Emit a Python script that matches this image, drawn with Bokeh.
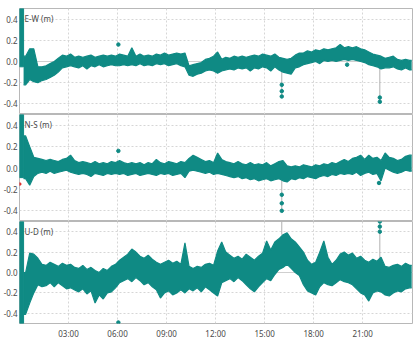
import numpy as np
from bokeh.plotting import figure
from bokeh.layouts import column
from bokeh.models import FixedTicker, Span, Label, Range1d, PrintfTickFormatter
from bokeh.embed import file_html
from bokeh.resources import INLINE

# ---- data (metres), 15-minute bins over 24 h: low / high envelope of the noisy track ----
BIN_H = 0.25
hour_ticks = [3, 6, 9, 12, 15, 18, 21]
hour_labels = ["03:00", "06:00", "09:00", "12:00", "15:00", "18:00", "21:00"]
value_ticks = [-0.4, -0.2, 0.0, 0.2, 0.4]

ew_lo = [-0.05, -0.22, -0.17, -0.19, -0.20, -0.18, -0.17, -0.15, -0.13, -0.10,
         -0.06, -0.05, -0.04, -0.05, -0.06, -0.04, -0.07, -0.04, -0.05, -0.03,
         -0.05, -0.04, -0.03, -0.04, -0.04, -0.03, -0.04, -0.03, -0.04, -0.02,
         -0.04, -0.03, -0.04, -0.02, -0.03, -0.02, -0.04, -0.03, -0.02, -0.04,
         -0.05, -0.13, -0.14, -0.12, -0.11, -0.09, -0.08, -0.09, -0.11, -0.09,
         -0.08, -0.07, -0.08, -0.06, -0.07, -0.06, -0.09, -0.06, -0.07, -0.05,
         -0.06, -0.09, -0.05, -0.08, -0.10, -0.11, -0.12, -0.06, -0.05, -0.03,
         -0.02, -0.01, 0.00, -0.02, 0.01, 0.00, 0.01, 0.00, 0.01, 0.02,
         0.01, 0.02, 0.01, 0.00, -0.01, -0.03, -0.04, -0.05, -0.07, -0.06,
         -0.06, -0.05, -0.07, -0.08, -0.06, -0.08]
ew_hi = [0.55, 0.05, 0.12, 0.12, -0.05, -0.05, -0.04, -0.02, 0.00, 0.03,
         0.06, 0.05, 0.07, 0.04, 0.05, 0.04, 0.05, 0.06, 0.04, 0.05,
         0.06, 0.05, 0.06, 0.05, 0.07, 0.06, 0.05, 0.13, 0.05, 0.07,
         0.05, 0.06, 0.05, 0.07, 0.06, 0.08, 0.06, 0.07, 0.08, 0.07,
         0.08, -0.04, -0.03, -0.02, -0.01, 0.02, 0.03, 0.05, 0.09, 0.02,
         0.04, 0.03, 0.05, 0.04, 0.05, 0.04, 0.05, 0.06, 0.05, 0.07,
         0.06, 0.05, 0.07, 0.04, 0.03, 0.02, 0.03, 0.06, 0.08, 0.08,
         0.10, 0.09, 0.11, 0.10, 0.12, 0.11, 0.12, 0.13, 0.16, 0.13,
         0.14, 0.13, 0.14, 0.12, 0.11, 0.09, 0.07, 0.06, 0.05, 0.03,
         0.04, 0.05, 0.02, 0.01, 0.02, 0.01]

ns_lo = [-0.09, -0.10, -0.16, -0.08, -0.05, -0.04, -0.05, -0.03, -0.05, -0.04,
         -0.03, -0.02, -0.04, -0.05, -0.06, -0.05, -0.06, -0.08, -0.05, -0.06,
         -0.07, -0.05, -0.06, -0.05, -0.06, -0.05, -0.07, -0.06, -0.05, -0.07,
         -0.06, -0.05, -0.06, -0.07, -0.05, -0.06, -0.05, -0.07, -0.06, -0.05,
         -0.09, -0.03, -0.02, -0.03, -0.04, -0.05, -0.04, -0.06, -0.05, -0.06,
         -0.07, -0.08, -0.09, -0.08, -0.10, -0.09, -0.11, -0.10, -0.12, -0.11,
         -0.10, -0.12, -0.11, -0.10, -0.12, -0.13, -0.10, -0.11, -0.09, -0.10,
         -0.08, -0.09, -0.10, -0.08, -0.07, -0.08, -0.06, -0.07, -0.05, -0.06,
         -0.05, -0.06, -0.04, -0.07, -0.05, -0.04, -0.06, -0.05, -0.12, 0.00,
         -0.02, -0.04, -0.05, -0.04, -0.02, -0.03]
ns_hi = [0.55, 0.30, 0.20, 0.10, 0.09, 0.08, 0.07, 0.08, 0.07, 0.06,
         0.08, 0.09, 0.12, 0.07, 0.05, 0.06, 0.05, 0.04, 0.06, 0.04,
         0.05, 0.04, 0.06, 0.05, 0.07, 0.05, 0.04, 0.05, 0.04, 0.05,
         0.03, 0.05, 0.04, 0.08, 0.05, 0.04, 0.06, 0.05, 0.04, 0.06,
         0.05, 0.09, 0.12, 0.10, 0.08, 0.06, 0.07, 0.05, 0.14, 0.08,
         0.06, 0.05, 0.04, 0.06, 0.04, 0.03, 0.05, 0.03, 0.04, 0.03,
         0.05, 0.02, 0.04, 0.06, 0.07, 0.02, 0.01, 0.02, 0.01, 0.03,
         0.02, 0.01, 0.03, 0.02, 0.04, 0.03, 0.05, 0.04, 0.06, 0.08,
         0.06, 0.09, 0.10, 0.12, 0.08, 0.12, 0.09, 0.10, 0.07, 0.14,
         0.10, 0.09, 0.07, 0.08, 0.11, 0.12]

ud_lo = [-0.55, -0.41, -0.30, -0.20, -0.12, -0.14, -0.13, -0.10, -0.14, -0.10,
         -0.13, -0.16, -0.15, -0.17, -0.19, -0.16, -0.21, -0.18, -0.30, -0.22,
         -0.26, -0.20, -0.19, -0.15, -0.10, -0.08, -0.06, -0.09, -0.05, -0.08,
         -0.12, -0.10, -0.14, -0.17, -0.25, -0.20, -0.18, -0.22, -0.20, -0.17,
         -0.20, -0.16, -0.18, -0.15, -0.19, -0.14, -0.17, -0.20, -0.23, -0.10,
         -0.08, -0.06, -0.09, -0.05, -0.08, -0.12, -0.16, -0.19, -0.14, -0.10,
         -0.06, -0.08, -0.02, 0.03, 0.05, 0.08, 0.04, 0.00, -0.03, -0.12,
         -0.18, -0.20, -0.22, -0.14, -0.10, -0.12, -0.13, -0.10, -0.07, -0.09,
         -0.10, -0.12, -0.16, -0.20, -0.22, -0.28, -0.20, -0.18, -0.19, -0.22,
         -0.23, -0.20, -0.18, -0.19, -0.16, -0.15]
ud_hi = [0.55, 0.00, 0.19, 0.18, 0.14, 0.08, 0.07, 0.10, 0.08, 0.06,
         0.09, 0.07, 0.08, 0.05, 0.04, 0.07, 0.03, 0.05, 0.02, 0.00,
         0.04, 0.02, 0.06, 0.08, 0.12, 0.15, 0.18, 0.23, 0.20, 0.16,
         0.14, 0.17, 0.13, 0.10, 0.08, 0.10, 0.12, 0.09, 0.11, 0.08,
         0.29, 0.06, 0.04, 0.06, 0.05, 0.08, 0.09, 0.07, 0.21, 0.30,
         0.20, 0.17, 0.14, 0.16, 0.13, 0.18, 0.15, 0.12, 0.16, 0.19,
         0.31, 0.22, 0.30, 0.33, 0.37, 0.39, 0.33, 0.30, 0.25, 0.20,
         0.12, 0.08, 0.10, 0.20, 0.31, 0.15, 0.08, 0.12, 0.18, 0.20,
         0.17, 0.19, 0.14, 0.16, 0.12, 0.10, 0.13, 0.11, 0.15, 0.06,
         0.05, 0.07, 0.08, 0.06, 0.09, 0.07]

# isolated outlier epochs (hours, metres)
ew_out_t = [6.05, 16.05, 16.05, 16.05, 20.05, 22.05, 22.05]
ew_out_v = [0.16, -0.22, -0.28, -0.33, -0.03, -0.34, -0.38]
ns_out_t = [6.05, 16.05, 16.05, 16.05, 22.0]
ns_out_v = [0.16, -0.25, -0.33, -0.40, -0.14]
ud_out_t = [6.05, 22.05, 22.05, 22.05]
ud_out_v = [-0.49, 0.40, 0.45, 0.50]

# jumps joined by the thin connecting line (hours, from, to)
ew_jump_t = [16.05, 22.05]
ew_jump_a = [-0.06, -0.05]
ew_jump_b = [-0.33, -0.38]
ns_jump_t = [16.05]
ns_jump_a = [-0.10]
ns_jump_b = [-0.41]
ud_jump_t = [16.05, 22.05]
ud_jump_a = [0.55, 0.00]
ud_jump_b = [0.37, 0.50]

# a flagged (red) epoch at start of N-S
ns_flag_t = [0.02]
ns_flag_v = [-0.15]

TEAL = "#0f8a84"
GRID = "#d6d6d6"
TEXT = "#4a4a4a"
FONT = "Noto Sans"

x_range = Range1d(0, 24.05)
xt = FixedTicker(ticks=hour_ticks)
yt = FixedTicker(ticks=value_ticks)


def panel(lo, hi, name, ot, ov, jt, ja, jb, height, top, bottom, show_x,
          ft=None, fv=None):
    p = figure(width=415, height=height, x_range=x_range, y_range=Range1d(-0.5, 0.5),
               output_backend="svg", toolbar_location=None,
               min_border_left=18, min_border_right=3,
               min_border_top=top, min_border_bottom=bottom)
    p.background_fill_color = "white"
    p.border_fill_color = "white"
    p.outline_line_color = "#b8b8b8"
    p.outline_line_width = 1

    for g, tk in ((p.xgrid, xt), (p.ygrid, yt)):
        g.ticker = tk
        g.grid_line_color = GRID
        g.grid_line_dash = "2 2"
        g.grid_line_width = 1
    p.add_layout(Span(location=0, dimension="width", line_color="#cfcfcf",
                      line_width=1, level="underlay"))

    for ax in (p.yaxis, p.xaxis):
        ax.axis_line_color = None
        ax.major_tick_line_color = None
        ax.minor_tick_line_color = None
        ax.major_tick_out = 0
        ax.major_tick_in = 0
        ax.minor_tick_out = 0
        ax.minor_tick_in = 0
        ax.major_label_text_font = FONT
        ax.major_label_text_font_size = "8px"
        ax.major_label_text_color = TEXT

    p.yaxis.ticker = yt
    p.yaxis.formatter = PrintfTickFormatter(format="%.1f")
    p.yaxis.major_label_standoff = 2

    p.xaxis.ticker = xt
    if show_x:
        p.xaxis.major_label_overrides = {t: s for t, s in zip(hour_ticks, hour_labels)}
        p.xaxis.major_label_standoff = 4
    else:
        p.xaxis.visible = False

    n = len(lo)
    t = np.arange(n) * BIN_H + BIN_H / 2
    # band from the start of the second bin to the end of the last one
    tx = np.concatenate([[BIN_H], t[1:], [n * BIN_H]])
    lo_x = np.concatenate([[lo[1]], lo[1:], [lo[-1]]])
    hi_x = np.concatenate([[hi[1]], hi[1:], [hi[-1]]])

    p.segment(x0=jt, x1=jt, y0=ja, y1=jb, line_color="#b0b0b0", line_width=1)
    p.varea(x=tx, y1=lo_x, y2=hi_x, fill_color=TEAL)
    p.line(x=tx, y=lo_x, line_color=TEAL, line_width=1.2)
    p.line(x=tx, y=hi_x, line_color=TEAL, line_width=1.2)
    # first bin: the convergence spike at the very start
    p.vbar(x=[BIN_H / 2], bottom=[lo[0]], top=[hi[0]], width=BIN_H,
           fill_color=TEAL, line_color=TEAL)
    p.scatter(x=ot, y=ov, size=3.5, fill_color=TEAL, line_color=TEAL)
    if ft is not None:
        p.scatter(x=ft, y=fv, size=2.5, fill_color="#e03030", line_color="#e03030")

    p.add_layout(Label(x=0.0, y=0.455, x_offset=5, text=name, text_baseline="top",
                       text_font=FONT, text_font_size="8px", text_color=TEXT))
    return p


p1 = panel(ew_lo, ew_hi, "E-W (m)", ew_out_t, ew_out_v, ew_jump_t, ew_jump_a, ew_jump_b,
           114, 8, 0, False)
p2 = panel(ns_lo, ns_hi, "N-S (m)", ns_out_t, ns_out_v, ns_jump_t, ns_jump_a, ns_jump_b,
           107, 0, 0, False, ns_flag_t, ns_flag_v)
p3 = panel(ud_lo, ud_hi, "U-D (m)", ud_out_t, ud_out_v, ud_jump_t, ud_jump_a, ud_jump_b,
           120, 0, 13, True)

layout = column(p1, p2, p3, spacing=0)
open("out.html", "w").write(file_html(layout, INLINE))
